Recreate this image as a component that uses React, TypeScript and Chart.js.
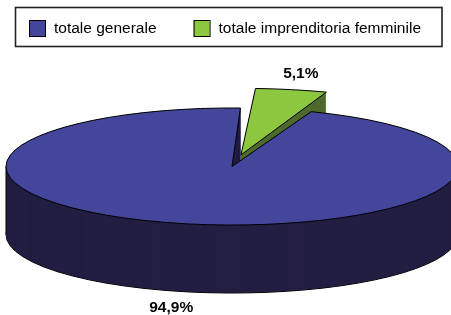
import React, { useEffect, useRef } from 'react';
import { Chart, registerables } from 'chart.js';

Chart.register(...registerables);

// ---- data ----
const categories = ['totale generale', 'totale imprenditoria femminile'];
const values = [94.9, 5.1];

// ---- style ----
const topColors = ['#43469B', '#8DC63F'];
const sideColors = ['#231F43', '#4E6B2D'];
const explode = [0, 182];

const W = 451;
const H = 315;
const TILT = 0.259;
const DEPTH = 68;
const RADIUS = 226;
const ROTATION = 20.5;
const LABEL_K = 1.28;
const FONT_FAMILY = '"Liberation Sans", Arial, sans-serif';

function offsetShift(arc: any) {
  const off = arc.options.offset || 0;
  const circ = arc.endAngle - arc.startAngle;
  const fix = 1 - Math.sin(Math.min(Math.PI, circ || 0));
  return (off / 4) * (1 + fix);
}

const pie3d = {
  id: 'pie3d',
  beforeDatasetsDraw(chart: any) {
    const ctx = chart.ctx as CanvasRenderingContext2D;
    const meta = chart.getDatasetMeta(0);
    const arcs: any[] = meta.data;
    const base = ctx.getTransform();
    const origStroke = ctx.stroke;
    const stroke = function (this: any, ...args: any[]) {
      ctx.save();
      ctx.setTransform(base);
      (origStroke as any).apply(ctx, args);
      ctx.restore();
    };
    const drawWith = (arc: any, k: number, opts: any) => {
      const saved = arc.options;
      arc.options = { ...saved, ...opts };
      ctx.save();
      ctx.translate(0, k);
      ctx.translate(arc.x, arc.y);
      ctx.scale(1, TILT);
      ctx.translate(-arc.x, -arc.y);
      (ctx as any).stroke = stroke;
      arc.draw(ctx);
      delete (ctx as any).stroke;
      ctx.restore();
      arc.options = saved;
    };
    const order = arcs
      .map((a, i) => i)
      .sort((i, j) => {
        const mi = (arcs[i].startAngle + arcs[i].endAngle) / 2;
        const mj = (arcs[j].startAngle + arcs[j].endAngle) / 2;
        return Math.sin(mi) - Math.sin(mj);
      });
    for (const i of order) {
      const arc = arcs[i];
      drawWith(arc, DEPTH, { backgroundColor: sideColors[i], borderColor: '#000', borderWidth: 1 });
      for (let k = DEPTH - 0.5; k >= 0.5; k -= 0.5) {
        drawWith(arc, k, { backgroundColor: sideColors[i], borderWidth: 0 });
      }
      // silhouette verticals
      const mid = (arc.startAngle + arc.endAngle) / 2;
      const t = offsetShift(arc);
      const cx = arc.x + t * Math.cos(mid);
      const cy = arc.y + t * Math.sin(mid) * TILT;
      ctx.save();
      ctx.strokeStyle = '#000';
      ctx.lineWidth = 1;
      for (let n = -2; n <= 4; n++) {
        const ang = n * Math.PI;
        if (ang >= arc.startAngle && ang <= arc.endAngle) {
          const x = cx + arc.outerRadius * Math.cos(ang);
          ctx.beginPath();
          ctx.moveTo(x, cy);
          ctx.lineTo(x, cy + DEPTH);
          ctx.stroke();
        }
      }
      ctx.restore();
      drawWith(arc, 0, {});
    }
    return false;
  },
  afterDraw(chart: any) {
    const ctx = chart.ctx as CanvasRenderingContext2D;
    const meta = chart.getDatasetMeta(0);
    const arcs: any[] = meta.data;
    const total = values.reduce((s, v) => s + v, 0);
    ctx.save();
    // percentage labels
    ctx.fillStyle = '#000';
    ctx.font = `bold 15.5px ${FONT_FAMILY}`;
    ctx.textAlign = 'center';
    ctx.textBaseline = 'middle';
    arcs.forEach((arc, i) => {
      const mid = (arc.startAngle + arc.endAngle) / 2;
      const t = offsetShift(arc);
      const cx = arc.x + t * Math.cos(mid);
      const cy = arc.y + t * Math.sin(mid) * TILT;
      const s = Math.sin(mid);
      const x = cx + LABEL_K * arc.outerRadius * Math.cos(mid);
      const y = cy + LABEL_K * arc.outerRadius * s * TILT + (s > 0 ? DEPTH : 0);
      const pct = ((values[i] / total) * 100).toFixed(1).replace('.', ',') + '%';
      ctx.fillText(pct, x - (s > 0 ? 4 : 3), y);
    });
    // legend
    ctx.strokeStyle = '#222';
    ctx.lineWidth = 1.6;
    ctx.strokeRect(15.5, 7.5, 426.5, 39);
    ctx.font = `15.5px ${FONT_FAMILY}`;
    ctx.textAlign = 'left';
    let x = 29;
    categories.forEach((c, i) => {
      ctx.fillStyle = topColors[i];
      ctx.fillRect(x, 20.5, 16, 16);
      ctx.strokeStyle = '#000';
      ctx.lineWidth = 1;
      ctx.strokeRect(x + 0.5, 20.5, 16, 16);
      ctx.fillStyle = '#000';
      ctx.fillText(c, x + 25, 29);
      x += 25 + ctx.measureText(c).width + 37;
    });
    ctx.restore();
  },
};

export default function App() {
  const ref = useRef<HTMLCanvasElement | null>(null);
  useEffect(() => {
    if (!ref.current) return;
    const chart = new Chart(ref.current, {
      type: 'pie',
      data: {
        labels: categories,
        datasets: [
          {
            data: values,
            backgroundColor: topColors,
            borderColor: '#000',
            borderWidth: 1,
            offset: explode,
          } as any,
        ],
      },
      options: {
        responsive: false,
        animation: false,
        rotation: ROTATION,
        radius: RADIUS,
        events: [],
        layout: { padding: { left: 13, right: 0, top: 18, bottom: 0 } },
        plugins: { legend: { display: false }, tooltip: { enabled: false } },
      } as any,
      plugins: [pie3d as any],
    });
    return () => chart.destroy();
  }, []);
  return (
    <div style={{ position: 'absolute', left: 0, top: 0, width: W, height: H, background: '#fff' }}>
      <canvas ref={ref} width={W} height={H} />
    </div>
  );
}
